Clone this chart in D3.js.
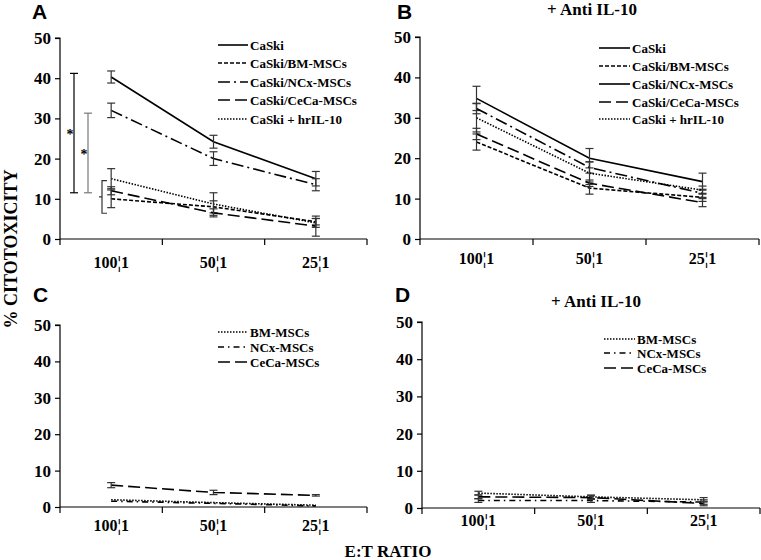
<!DOCTYPE html>
<html>
<head>
<meta charset="utf-8">
<script src="https://cdn.jsdelivr.net/npm/d3@7"></script>
<style>
html,body{margin:0;padding:0;background:#fff;}
svg{display:block;}
</style>
</head>
<body>
<svg id="chart" width="761" height="560"></svg>
<script>
// ---------- DATA ----------
const ratios = ["100¦1", "50¦1", "25¦1"];
const yTicks = [0, 10, 20, 30, 40, 50];

// Panel A (CaSki co-cultures)
const namesAB = ["CaSki", "CaSki/BM-MSCs", "CaSki/NCx-MSCs", "CaSki/CeCa-MSCs", "CaSki + hrIL-10"];
const aCaSki = [40.3, 24.2, 15.0];
const aCaSkiErr = [1.5, 1.6, 1.8];
const aBM = [10.0, 8.0, 4.3];
const aBMErr = [2.2, 1.5, 0.8];
const aNCx = [32.0, 20.0, 13.5];
const aNCxErr = [1.8, 1.7, 1.5];
const aCeCa = [12.0, 6.5, 3.2];
const aCeCaErr = [1.0, 1.0, 2.5];
const aIL = [15.0, 8.7, 4.0];
const aILErr = [2.5, 2.8, 1.1];
// significance markers in panel A (value range)
const sigTops = [41.2, 31.3];
const sigBottom = 11.5;
const bracketRange = [6.4, 14.5];
const bracketMid = 10.5;

// Panel B (+ Anti IL-10)
const bCaSki = [34.8, 20.0, 14.2];
const bCaSkiErr = [3.0, 2.4, 2.1];
const bBM = [24.0, 12.6, 10.3];
const bBMErr = [2.0, 1.5, 1.0];
const bNCx = [32.3, 17.7, 11.3];
const bNCxErr = [1.3, 1.4, 1.0];
const bCeCa = [26.0, 13.8, 9.0];
const bCeCaErr = [1.4, 0.8, 1.0];
const bIL = [30.0, 16.3, 12.1];
const bILErr = [3.5, 2.8, 1.0];

// Panels C and D (MSCs alone)
const namesCD = ["BM-MSCs", "NCx-MSCs", "CeCa-MSCs"];
const cBM = [2.0, 1.2, 0.5];
const cNCx = [1.6, 1.0, 0.3];
const cCeCa = [6.0, 4.0, 3.2];
const cCeCaErr = [0.7, 0.6, 0.2];
const dBM = [4.0, 3.0, 2.2];
const dNCx = [2.0, 2.0, 1.6];
const dCeCa = [3.0, 2.8, 1.2];
const dErr = [0.5, 0.5, 0.6];

// ---------- STYLES ----------
const dashAB = [null, "4,2", "12,4,2,4", "12,5", "1.5,1.5"];
const dashCD = ["1.5,1.5", "6,4,1.5,4", "12,5"];
const serif = "'Liberation Serif','Times New Roman',serif";
const sans = "'Liberation Sans',Arial,sans-serif";

const svg = d3.select("#chart");

const panels = [
  { id: "A", x0: 60, x1: 367, yTop: 38, y0: 239, catY: 262, letter: [32, 19], title: null,
    series: [
      { name: namesAB[0], v: aCaSki, e: aCaSkiErr, dash: dashAB[0] },
      { name: namesAB[1], v: aBM, e: aBMErr, dash: dashAB[1] },
      { name: namesAB[2], v: aNCx, e: aNCxErr, dash: dashAB[2] },
      { name: namesAB[3], v: aCeCa, e: aCeCaErr, dash: dashAB[3] },
      { name: namesAB[4], v: aIL, e: aILErr, dash: dashAB[4] }
    ],
    legend: { x: 218, len: 30, rows: [45, 63, 82, 100, 119] } },
  { id: "B", x0: 420, x1: 759, yTop: 37, y0: 239, catY: 258, letter: [397, 19], title: [592, 15],
    series: [
      { name: namesAB[0], v: bCaSki, e: bCaSkiErr, dash: dashAB[0] },
      { name: namesAB[1], v: bBM, e: bBMErr, dash: dashAB[1] },
      { name: namesAB[2], v: bNCx, e: bNCxErr, dash: dashAB[2], legendDash: null },
      { name: namesAB[3], v: bCeCa, e: bCeCaErr, dash: dashAB[3] },
      { name: namesAB[4], v: bIL, e: bILErr, dash: dashAB[4] }
    ],
    legend: { x: 599, len: 31, rows: [48, 66, 84, 102, 119] } },
  { id: "C", x0: 60, x1: 367, yTop: 325, y0: 507, catY: 525, letter: [33, 302], title: null,
    series: [
      { name: namesCD[0], v: cBM, e: null, dash: dashCD[0] },
      { name: namesCD[1], v: cNCx, e: null, dash: dashCD[1] },
      { name: namesCD[2], v: cCeCa, e: cCeCaErr, dash: dashCD[2] }
    ],
    legend: { x: 218, len: 30, rows: [332, 347, 362] } },
  { id: "D", x0: 422, x1: 760, yTop: 322, y0: 508, catY: 520, letter: [395, 302], title: [596, 307],
    series: [
      { name: namesCD[0], v: dBM, e: dErr, dash: dashCD[0] },
      { name: namesCD[1], v: dNCx, e: dErr, dash: dashCD[1] },
      { name: namesCD[2], v: dCeCa, e: dErr, dash: dashCD[2] }
    ],
    legend: { x: 604, len: 31, rows: [339, 353, 368] } }
];

panels.forEach(p => {
  const g = svg.append("g");
  const x = d3.scaleBand().domain(ratios).range([p.x0, p.x1]);
  const y = d3.scaleLinear().domain([0, 50]).range([p.y0, p.yTop]);

  // axes
  const yAxis = d3.axisLeft(y).tickValues(yTicks).tickSize(5).tickPadding(4);
  const ya = g.append("g").attr("transform", `translate(${p.x0},0)`).call(yAxis);
  ya.select(".domain").attr("stroke", "#000").attr("stroke-width", 1.2)
    .attr("d", `M-5,${p.yTop}H0V${p.y0}`);
  ya.selectAll(".tick line").attr("stroke", "#000").attr("stroke-width", 1.2);
  ya.selectAll(".tick text").attr("font-family", serif).attr("font-weight", "bold")
    .attr("font-size", 17).attr("fill", "#000");

  const xa = g.append("g").attr("transform", `translate(0,${p.y0})`);
  xa.append("line").attr("x1", p.x0).attr("x2", p.x1).attr("y1", 0).attr("y2", 0)
    .attr("stroke", "#000").attr("stroke-width", 1.2);
  const bounds = ratios.map(r => x(r)).concat([p.x1]);
  xa.selectAll("line.tk").data(bounds).join("line").attr("class", "tk")
    .attr("x1", d => d).attr("x2", d => d).attr("y1", 0).attr("y2", 6)
    .attr("stroke", "#000").attr("stroke-width", 1.2);
  g.selectAll("text.cat").data(ratios).join("text").attr("class", "cat")
    .attr("x", d => x(d) + x.bandwidth() / 2).attr("y", p.catY).attr("dy", "0.35em")
    .attr("text-anchor", "middle").attr("font-family", serif).attr("font-weight", "bold")
    .attr("font-size", 16).attr("fill", "#000").text(d => d);

  // series lines
  const line = d3.line().x((d, i) => x(ratios[i]) + x.bandwidth() / 2).y(d => y(d));
  p.series.forEach(s => {
    g.append("path").datum(s.v).attr("d", line).attr("fill", "none")
      .attr("stroke", "#000").attr("stroke-width", 1.6)
      .attr("stroke-dasharray", s.dash);
    if (s.e) {
      s.v.forEach((v, i) => {
        const cx = x(ratios[i]) + x.bandwidth() / 2;
        const t = y(v + s.e[i]), b = y(Math.max(0, v - s.e[i]));
        const eg = g.append("g").attr("stroke", "#333").attr("stroke-width", 1.2);
        eg.append("line").attr("x1", cx).attr("x2", cx).attr("y1", t).attr("y2", b);
        eg.append("line").attr("x1", cx - 4).attr("x2", cx + 4).attr("y1", t).attr("y2", t);
        eg.append("line").attr("x1", cx - 4).attr("x2", cx + 4).attr("y1", b).attr("y2", b);
      });
    }
  });

  // legend
  p.series.forEach((s, i) => {
    const ly = p.legend.rows[i];
    const ld = s.legendDash !== undefined ? s.legendDash : s.dash;
    g.append("line").attr("x1", p.legend.x).attr("x2", p.legend.x + p.legend.len)
      .attr("y1", ly).attr("y2", ly).attr("stroke", "#000").attr("stroke-width", 1.6)
      .attr("stroke-dasharray", ld);
    g.append("text").attr("x", p.legend.x + p.legend.len + 2).attr("y", ly).attr("dy", "0.35em")
      .attr("font-family", serif).attr("font-weight", "bold").attr("font-size", 13)
      .attr("fill", "#000").text(s.name);
  });

  // panel letter
  g.append("text").attr("x", p.letter[0]).attr("y", p.letter[1])
    .attr("font-family", sans).attr("font-weight", "bold").attr("font-size", 21)
    .attr("fill", "#000").text(p.id);
  if (p.title) {
    g.append("text").attr("x", p.title[0]).attr("y", p.title[1]).attr("text-anchor", "middle")
      .attr("font-family", serif).attr("font-weight", "bold").attr("font-size", 17)
      .attr("fill", "#000").text("+ Anti IL-10");
  }

  // significance annotations for panel A
  if (p.id === "A") {
    const sx = [74, 88], starX = [70, 84], cols = ["#000", "#777"];
    sigTops.forEach((t, i) => {
      const sg = g.append("g").attr("stroke", cols[i]).attr("stroke-width", 1.2);
      sg.append("line").attr("x1", sx[i]).attr("x2", sx[i]).attr("y1", y(t)).attr("y2", y(sigBottom));
      sg.append("line").attr("x1", sx[i] - 4).attr("x2", sx[i] + 4).attr("y1", y(t)).attr("y2", y(t));
      sg.append("line").attr("x1", sx[i] - 4).attr("x2", sx[i] + 4).attr("y1", y(sigBottom)).attr("y2", y(sigBottom));
      g.append("text").attr("x", starX[i]).attr("y", (y(t) + y(sigBottom)) / 2 + 6)
        .attr("text-anchor", "middle").attr("font-family", serif).attr("font-weight", "bold")
        .attr("font-size", 14).attr("fill", "#000").text("*");
    });
    const bx = 102;
    const bg = g.append("g").attr("stroke", "#333").attr("stroke-width", 1.2).attr("fill", "none");
    bg.append("path").attr("d",
      `M${bx + 5},${y(bracketRange[1])}H${bx}V${y(bracketRange[0])}H${bx + 5}M${bx - 3},${y(bracketMid)}H${bx}`);
  }
});

// shared axis titles
svg.append("text").attr("transform", "translate(11,249) rotate(-90)").attr("text-anchor", "middle")
  .attr("dy", "0.35em").attr("font-family", serif).attr("font-weight", "bold").attr("font-size", 18)
  .attr("fill", "#000").text("% CITOTOXICITY");
svg.append("text").attr("x", 388).attr("y", 557).attr("text-anchor", "middle")
  .attr("font-family", serif).attr("font-weight", "bold").attr("font-size", 17)
  .attr("fill", "#000").text("E:T RATIO");
</script>
</body>
</html>
